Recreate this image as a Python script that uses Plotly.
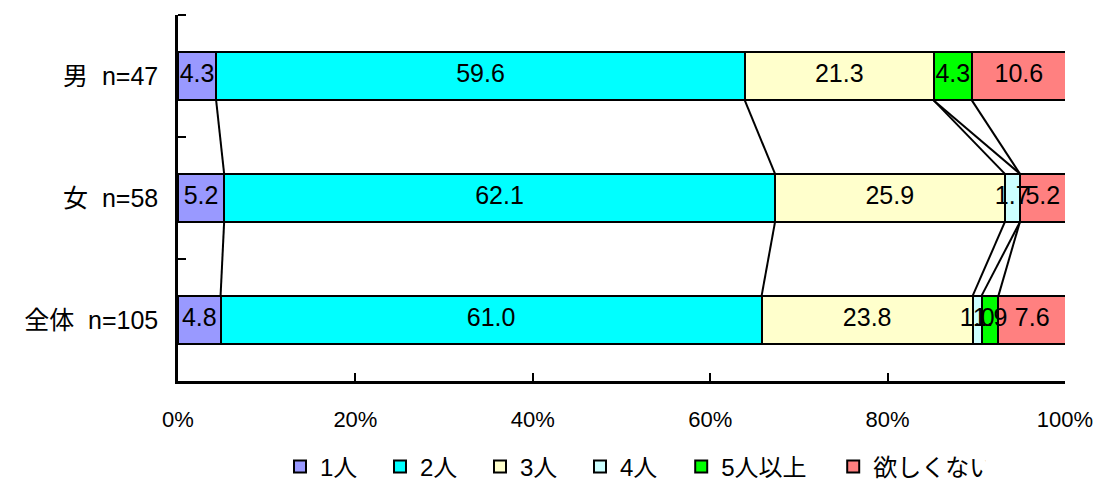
import plotly.graph_objects as go

# Respondent groups (top to bottom) and answer categories
groups = ["男  n=47", "女  n=58", "全体  n=105"]
answers = ["1人", "2人", "3人", "4人", "5人以上", "欲しくない"]

# Percentages per answer, one value per group
pct_1 = [4.3, 5.2, 4.8]
pct_2 = [59.6, 62.1, 61.0]
pct_3 = [21.3, 25.9, 23.8]
pct_4 = [0.0, 1.7, 1.0]
pct_5plus = [4.3, 0.0, 1.9]
pct_none = [10.6, 5.2, 7.6]

series = [pct_1, pct_2, pct_3, pct_4, pct_5plus, pct_none]
colors = ["#9999FF", "#00FFFF", "#FFFFCC", "#CCFFFF", "#00FF00", "#FF8080"]
legend_ids = ["legend", "legend", "legend", "legend", "legend2", "legend2"]

x_ticks = [0, 20, 40, 60, 80, 100]
x_ticktext = ["0%", "20%", "40%", "60%", "80%", "100%"]

BAR_W = 0.4
ypos = list(range(len(groups)))
FONT = "Liberation Sans, Noto Sans CJK JP, sans-serif"

fig = go.Figure()

for name, vals, col, lg in zip(answers, series, colors, legend_ids):
    fig.add_trace(go.Bar(
        name=name,
        y=ypos,
        x=vals,
        orientation="h",
        width=BAR_W,
        legend=lg,
        marker=dict(color=col, line=dict(color="black", width=2)),
        hoverinfo="skip",
    ))

# Cumulative boundaries per group (left edge of each segment + end)
bounds = []
for g in range(len(groups)):
    s, row = 0.0, [0.0]
    for vals in series:
        s += vals[g]
        row.append(s)
    bounds.append(row)

# Connector lines between inner segment boundaries of adjacent bars
lx, ly = [], []
for g in range(len(groups) - 1):
    for a, b in zip(bounds[g][1:-1], bounds[g + 1][1:-1]):
        lx += [a, b, None]
        ly += [g + BAR_W / 2, g + 1 - BAR_W / 2, None]

fig.add_trace(go.Scatter(
    x=lx, y=ly, mode="lines",
    line=dict(color="black", width=2),
    showlegend=False, hoverinfo="skip",
))

# Value labels centred on each non-empty segment, drawn above all bars
tx, ty, tt = [], [], []
for g in range(len(groups)):
    for k, vals in enumerate(series):
        v = vals[g]
        if v > 0:
            tx.append((bounds[g][k] + bounds[g][k + 1]) / 2)
            ty.append(g)
            tt.append(f"{v:.1f}")

fig.add_trace(go.Scatter(
    x=tx, y=ty, text=tt, mode="text",
    textposition="middle center",
    textfont=dict(size=25, color="black", family=FONT),
    showlegend=False, hoverinfo="skip",
))

legend_style = dict(
    orientation="h",
    xanchor="left",
    y=-0.235, yanchor="middle",
    font=dict(size=24, family=FONT),
    traceorder="normal",
    itemwidth=30,
    entrywidthmode="pixels",
)

fig.update_layout(
    barmode="stack",
    width=1095, height=479,
    margin=dict(l=178, r=30, t=15, b=98, autoexpand=False),
    paper_bgcolor="white",
    plot_bgcolor="white",
    font=dict(family=FONT, color="black"),
    legend=dict(legend_style, x=(280 - 178) / 887, entrywidth=55),
    legend2=dict(legend_style, x=(832 - 178) / 887 - 0.17, entrywidth=107),
    showlegend=True,
)

fig.update_xaxes(
    range=[0, 100],
    tickvals=x_ticks,
    ticktext=x_ticktext,
    ticks="inside",
    ticklen=8,
    tickwidth=2,
    tickcolor="black",
    showline=True,
    linecolor="black",
    linewidth=2.5,
    showgrid=False,
    zeroline=False,
    automargin=False,
    ticklabelstandoff=17,
    tickfont=dict(size=22, family=FONT),
)

fig.update_yaxes(
    range=[len(groups) - 0.5, -0.5],
    tickvals=ypos,
    ticktext=groups,
    ticks="",
    showline=True,
    linecolor="black",
    linewidth=2.5,
    showgrid=False,
    zeroline=False,
    automargin=False,
    ticklabelstandoff=12,
    tickfont=dict(size=25, family=FONT),
    minor=dict(
        tickmode="array",
        tickvals=[-0.5, 0.5, 1.5],
        ticks="inside",
        ticklen=8,
        tickwidth=2,
        tickcolor="black",
        showgrid=False,
    ),
)

fig.write_html("out.html")
